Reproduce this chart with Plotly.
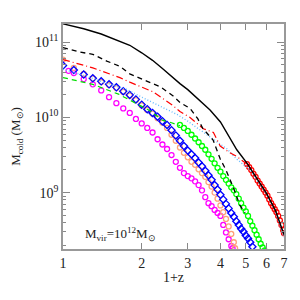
import plotly.graph_objects as go

# ---- data: x = 1+z, y = log10(M_cold / Msun) ----
solid_x = [1.0, 1.2, 1.4, 1.6, 1.8, 2.0, 2.2, 2.4, 2.6, 2.8, 3.0, 3.3, 3.65, 4.0, 4.3, 4.62, 5.06, 5.5, 6.0, 6.5, 7.0]
solid_y = [11.245, 11.18, 11.11, 11.03, 10.96, 10.86, 10.76, 10.65, 10.54, 10.45, 10.37, 10.24, 10.10, 9.94, 9.76, 9.57, 9.39, 9.20, 8.99, 8.76, 8.44]

dash_x = [1.0, 1.16, 1.30, 1.40, 1.47, 1.65, 1.80, 2.10, 2.35, 2.63, 2.80, 3.06, 3.28, 3.43, 3.75, 3.99, 4.20, 4.49, 4.75, 4.97]
dash_y = [10.93, 10.87, 10.84, 10.78, 10.75, 10.68, 10.58, 10.48, 10.41, 10.29, 10.20, 10.12, 9.98, 9.85, 9.70, 9.45, 9.30, 9.06, 8.83, 8.73]

redline_x = [1.0, 1.3, 1.65, 1.8, 2.21, 2.63, 2.8, 3.06, 3.44, 3.76, 3.99, 4.3, 4.62, 5.05]
redline_y = [10.77, 10.66, 10.53, 10.47, 10.34, 10.16, 10.08, 10.0, 9.85, 9.80, 9.62, 9.54, 9.48, 9.38]

cyan_x = [1.0, 1.2, 1.4, 1.6, 1.76, 2.0, 2.2, 2.41, 2.73, 3.0, 3.4, 3.8, 4.24, 4.6, 5.19, 5.6, 6.0, 6.5, 7.0]
cyan_y = [10.64, 10.56, 10.48, 10.42, 10.37, 10.27, 10.20, 10.13, 10.04, 9.95, 9.82, 9.70, 9.58, 9.45, 9.30, 9.13, 8.98, 8.74, 8.40]

greenline_x = [1.0, 1.3, 1.63, 1.9, 2.15, 2.41, 2.6, 2.8]
greenline_y = [10.53, 10.44, 10.31, 10.19, 10.09, 9.96, 9.93, 9.89]

blue_x = [1.0, 1.1, 1.2, 1.3, 1.4, 1.5, 1.6, 1.7, 1.8, 1.9, 2.0, 2.1, 2.2, 2.3, 2.4, 2.5, 2.6, 2.7, 2.8, 2.9, 3.0,
          3.1, 3.2, 3.3, 3.4, 3.5, 3.6, 3.7, 3.8, 3.9, 4.0, 4.1, 4.2, 4.3, 4.4, 4.5, 4.6, 4.7, 4.8, 4.9, 5.0, 5.1, 5.2, 5.3]
blue_y = [10.69, 10.63, 10.57, 10.52, 10.48, 10.44, 10.40, 10.35, 10.30, 10.24, 10.17, 10.11, 10.06, 10.01, 9.95, 9.90,
          9.83, 9.76, 9.69, 9.62, 9.56, 9.51, 9.46, 9.40, 9.35, 9.29, 9.23, 9.17, 9.10, 9.04, 8.97, 8.91, 8.85, 8.79,
          8.73, 8.68, 8.62, 8.57, 8.52, 8.48, 8.43, 8.39, 8.34, 8.28]

salmon_x = [1.0, 1.1, 1.2, 1.3, 1.4, 1.5, 1.6, 1.7, 1.8, 1.9, 2.0, 2.1, 2.2, 2.3, 2.4, 2.5, 2.6, 2.7, 2.8, 2.9, 3.0,
            3.1, 3.2, 3.3, 3.4, 3.5, 3.6, 3.7, 3.8, 3.9, 4.0, 4.1, 4.2, 4.3, 4.4, 4.5, 4.55]
salmon_y = [10.77, 10.66, 10.58, 10.52, 10.47, 10.43, 10.39, 10.34, 10.29, 10.23, 10.16, 10.10, 10.05, 9.99, 9.93,
            9.86, 9.77, 9.69, 9.60, 9.53, 9.47, 9.41, 9.37, 9.31, 9.26, 9.21, 9.14, 9.08, 9.00, 8.92, 8.83, 8.74,
            8.65, 8.55, 8.45, 8.34, 8.26]

magenta_x = [1.05, 1.1, 1.2, 1.3, 1.4, 1.5, 1.6, 1.7, 1.8, 1.9, 2.0, 2.1, 2.2, 2.3, 2.4, 2.5, 2.6, 2.7, 2.8, 2.9,
             3.0, 3.1, 3.2, 3.3, 3.4, 3.5, 3.6, 3.7, 3.8, 3.9, 4.0, 4.1, 4.2, 4.3, 4.4, 4.45]
magenta_y = [10.62, 10.59, 10.51, 10.44, 10.36, 10.27, 10.19, 10.12, 10.06, 9.98, 9.92, 9.86, 9.80, 9.71, 9.64,
             9.58, 9.50, 9.41, 9.33, 9.26, 9.22, 9.19, 9.15, 9.10, 9.03, 8.94, 8.86, 8.82, 8.77, 8.73, 8.69, 8.57,
             8.47, 8.38, 8.29, 8.26]

green_x = [2.8, 2.9, 3.0, 3.1, 3.2, 3.3, 3.4, 3.5, 3.6, 3.7, 3.8, 3.9, 4.0, 4.1, 4.2, 4.3, 4.4, 4.5, 4.6, 4.7,
           4.8, 4.9, 5.0, 5.1, 5.2, 5.3, 5.4, 5.5, 5.6, 5.7, 5.8, 5.9]
green_y = [9.90, 9.86, 9.82, 9.77, 9.72, 9.67, 9.62, 9.57, 9.51, 9.45, 9.39, 9.33, 9.28, 9.22, 9.17, 9.12, 9.07,
           9.03, 8.98, 8.92, 8.86, 8.80, 8.75, 8.69, 8.62, 8.56, 8.50, 8.44, 8.38, 8.32, 8.27, 8.23]

red_x = [5.05, 5.15, 5.25, 5.35, 5.45, 5.55, 5.65, 5.75, 5.85, 5.95, 6.05, 6.15, 6.25, 6.35, 6.45, 6.55, 6.65,
         6.75, 6.85, 6.95, 7.0]
red_y = [9.38, 9.34, 9.30, 9.25, 9.21, 9.16, 9.12, 9.08, 9.04, 9.00, 8.96, 8.91, 8.86, 8.82, 8.78, 8.74, 8.69,
         8.63, 8.57, 8.50, 8.46]

x_ticks = [1, 2, 3, 4, 5, 6, 7]
y_ticks = [1e9, 1e10, 1e11]
y_ticktext = ["10<sup>9</sup>", "10<sup>10</sup>", "10<sup>11</sup>"]


def p(v):
    return [10 ** a for a in v]


fig = go.Figure()


def markers(x, y, color, symbol="circle-open", size=5):
    fig.add_trace(go.Scatter(x=x, y=p(y), mode="markers",
                             marker=dict(symbol=symbol, size=size, color=color, line=dict(width=1.3, color=color)),
                             showlegend=False))


markers(magenta_x, magenta_y, "#FF00FF")
markers(salmon_x, salmon_y, "#FFA07A")
markers(blue_x, blue_y, "#0000FF", symbol="diamond-open", size=5.5)
markers(green_x, green_y, "#00FF00")
markers(red_x, red_y, "#FF0000")

fig.add_trace(go.Scatter(x=greenline_x, y=p(greenline_y), mode="lines",
                         line=dict(color="#00DD00", width=1.2, dash="5px,4px"), showlegend=False))
fig.add_trace(go.Scatter(x=cyan_x, y=p(cyan_y), mode="lines",
                         line=dict(color="#66BBFF", width=1.4, dash="1px,2px"), showlegend=False))
fig.add_trace(go.Scatter(x=redline_x, y=p(redline_y), mode="lines",
                         line=dict(color="#FF0000", width=1.2, dash="7px,3px,1px,3px"), showlegend=False))
fig.add_trace(go.Scatter(x=dash_x, y=p(dash_y), mode="lines",
                         line=dict(color="#000000", width=1.3, dash="5px,4px"), showlegend=False))
fig.add_trace(go.Scatter(x=solid_x, y=p(solid_y), mode="lines",
                         line=dict(color="#000000", width=1.4), showlegend=False))

serif = "Liberation Serif, Times New Roman, serif"

minor_y = []
for d in [1e8, 1e9, 1e10, 1e11]:
    for k in range(2, 10):
        minor_y.append(k * d)

fig.update_xaxes(type="log", range=[0, 0.8451], tickvals=x_ticks, ticktext=[str(t) for t in x_ticks],
                 ticks="inside", ticklen=6, tickcolor="#888", tickwidth=1,
                 showline=True, linecolor="#999", linewidth=1.5, mirror="ticks",
                 showgrid=False, zeroline=False, automargin=False,
                 tickfont=dict(family=serif, size=14, color="#222"),
                 title=dict(text="1+z", font=dict(family=serif, size=14, color="#222"), standoff=3))
fig.update_yaxes(type="log", range=[8.25, 11.243], tickvals=y_ticks, ticktext=y_ticktext,
                 ticks="inside", ticklen=7, tickcolor="#888", tickwidth=1,
                 minor=dict(tickvals=minor_y, ticks="inside", ticklen=3, tickcolor="#888", showgrid=False),
                 showline=True, linecolor="#999", linewidth=1.5, mirror="ticks",
                 showgrid=False, zeroline=False, automargin=False,
                 tickfont=dict(family=serif, size=14, color="#222"),
                 title=dict(text="M<sub>cold</sub> (M<sub>⊙</sub>)", font=dict(family=serif, size=13, color="#222")))

fig.add_annotation(text="M<sub>vir</sub>=10<sup>12</sup>M<sub>⊙</sub>", xref="paper", yref="paper",
                   x=0.09, y=0.065, xanchor="left", yanchor="middle", showarrow=False,
                   font=dict(family=serif, size=13, color="#222"))

# page body has an 8px margin, so the figure is placed at (8, 8)
fig.update_layout(width=292, height=292, margin=dict(l=55, r=16, t=16, b=51),
                  paper_bgcolor="white", plot_bgcolor="white")

fig.write_html("out.html")
